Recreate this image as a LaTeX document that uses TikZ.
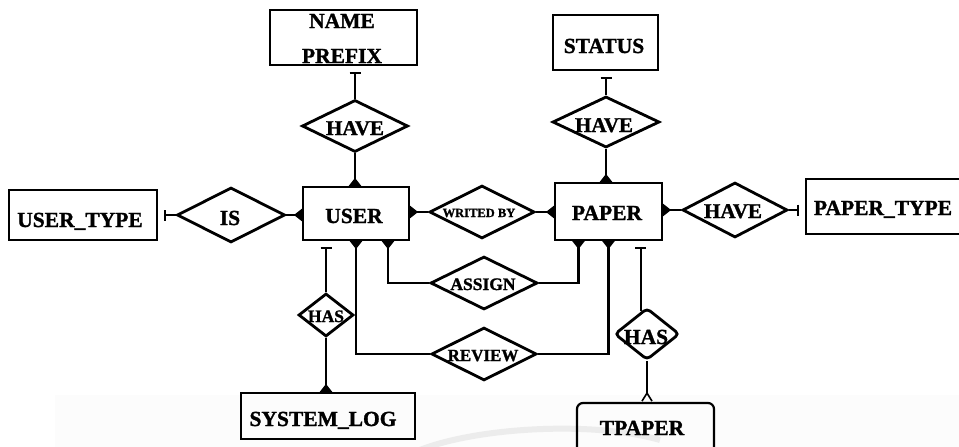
\documentclass[tikz,border=0pt]{standalone}
\usepackage{fontspec}
\setmainfont{Liberation Serif}
\newfontfamily\erfont{Liberation Serif Bold}[FakeBold=1.3]
\usetikzlibrary{shapes.geometric,arrows.meta}
\begin{document}
\begin{tikzpicture}[x=1pt,y=-1pt,line width=2.2pt,
  ent/.style={draw,rectangle,inner sep=0pt,line width=2.2pt},
  rel/.style={draw,diamond,inner sep=0pt,line width=2.8pt},
  txt/.style={anchor=base,inner sep=0pt,font=\erfont\fontsize{#1}{#1}\selectfont},
  txt/.default=21.5,
  many/.style={-{Triangle[reversed,length=8pt,width=12pt]}},
  one/.style={-{Bar[width=11pt,sep=6pt]}},
  crow/.style={-{Straight Barb[reversed,length=8pt,width=10pt,line width=1.6pt]}},
]
\useasboundingbox (0,0) rectangle (959,447);
\clip (0,0) rectangle (959,447);
\fill[gray!2] (55,395) rectangle (959,447);
\draw[gray!15,line width=6pt] (415,452) .. controls (470,428) and (590,420) .. (660,440);

% entities
\node[ent,minimum width=147,minimum height=55] (np) at (343.5,37.5) {};
\node[txt] (npa) at (342,28) {NAME};
\node[txt] (npb) at (342,63) {PREFIX};
\node[ent,minimum width=105,minimum height=55] (st) at (605.5,42.5) {};
\node[txt] (sta) at (604,53) {STATUS};
\node[ent,minimum width=148,minimum height=50] (ut) at (83,215) {};
\node[txt] (uta) at (80,227) {USER\_TYPE};
\node[ent,minimum width=106,minimum height=53] (user) at (356,213.5) {};
\node[txt] (usera) at (354,223) {USER};
\node[ent,minimum width=107,minimum height=57] (paper) at (608.5,211.5) {};
\node[txt] (papera) at (607,220) {PAPER};
\node[ent,minimum width=160,minimum height=55] (pt) at (886,206.5) {};
\node[txt] (pta) at (883,215) {PAPER\_TYPE};
\node[ent,minimum width=174,minimum height=46] (syslog) at (328,416) {};
\node[txt] (syslg) at (323,426) {SYSTEM\_LOG};
\node[ent,rounded corners=6pt,minimum width=137,minimum height=62] (tp) at (645.5,434) {};
\node[txt] (tpa) at (642,435) {TPAPER};

% relationships
\node[rel,minimum width=106,minimum height=52] (have1) at (355,126) {};
\node[txt=21] (have1a) at (355,135) {HAVE};
\node[rel,minimum width=107,minimum height=51] (have2) at (606,122) {};
\node[txt=21] (have2a) at (604,132) {HAVE};
\node[rel,minimum width=105,minimum height=55] (have3) at (735,210) {};
\node[txt=21] (have3a) at (733,218) {HAVE};
\node[rel,minimum width=108,minimum height=55] (is) at (231,215) {};
\node[txt] (isa) at (230,225) {IS};
\node[rel,minimum width=105,minimum height=53] (wb) at (482,212) {};
\node[txt=12.5] (wba) at (479,217) {WRITED BY};
\node[rel,minimum width=107,minimum height=53] (assign) at (484,283) {};
\node[txt=17.5] (assigna) at (483,290) {ASSIGN};
\node[rel,minimum width=105,minimum height=53] (review) at (484,354) {};
\node[txt=17] (reviewa) at (483,361) {REVIEW};
\node[rel,minimum width=55,minimum height=43] (has1) at (326,315) {};
\node[txt=17.5] (has1a) at (326,322) {HAS};
\node[rel,rounded corners=4pt,minimum width=65,minimum height=52] (has2) at (647,334) {};
\node[txt] (has2a) at (646,344) {HAS};

% connectors
\draw[one] (have1.north) -- (have1.north |- np.south);
\draw[many] (have1.south) -- (have1.south |- user.north);
\draw[one] (have2.north) -- (have2.north |- st.south);
\draw[many] (have2.south) -- (have2.south |- paper.north);
\draw[one] (is.west) -- (is.west -| ut.east);
\draw[many] (is.east) -- (is.east -| user.west);
\draw[many] (wb.west) -- (wb.west -| user.east);
\draw[many] (wb.east) -- (wb.east -| paper.west);
\draw[many] (have3.west) -- (have3.west -| paper.east);
\draw[one] (have3.east) -- (have3.east -| pt.west);
\draw[one] (has1.north) -- (has1.north |- user.south);
\draw[many] (has1.south) -- (has1.south |- syslog.north);
\draw[many] (assign.west) -| ([xshift=32pt]user.south);
\draw[many] (assign.east) -| ([xshift=-30pt]paper.south);
\draw[many] (review.west) -| (user.south);
\draw[many] (review.east) -| (paper.south);
\draw[one] (has2.105) -- (has2.105 |- paper.south);
\draw[crow] (has2.south) -- (has2.south |- tp.north);
\end{tikzpicture}
\end{document}
